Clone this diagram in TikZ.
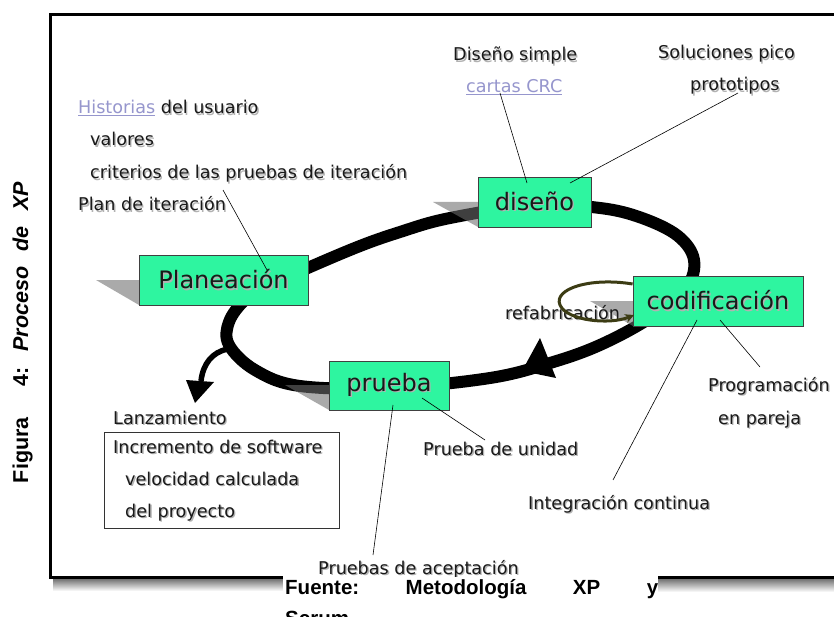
\documentclass[tikz,border=0pt]{standalone}
\usepackage{fontspec}
\setmainfont{DejaVu Sans}
\newfontfamily\capfont{Liberation Sans}
\usetikzlibrary{arrows.meta}
\definecolor{phasegreen}{RGB}{46,245,160}
\definecolor{linkblue}{RGB}{150,150,205}
\definecolor{olive}{RGB}{60,60,20}
\definecolor{txt}{RGB}{25,25,25}
\newcommand\shd[1]{\leavevmode\rlap{\kern1.3pt\raisebox{-1.3pt}{\textcolor{black!30}{#1}}}#1}
\tikzset{
  lbl/.style={anchor=base west, inner sep=0pt, font=\fontsize{17.6}{20}\selectfont, text=txt},
  phase/.style={draw=black!75, line width=0.8pt, fill=phasegreen, inner sep=0pt, font=\fontsize{24}{28}\selectfont, text=txt},
  boxshadow/.style={fill=black!57, opacity=0.58},
  leader/.style={draw=black, line width=0.6pt},
  loopline/.style={draw=black, line width=12pt},
  framerule/.style={draw=black, line width=3pt},
  srcfnt/.style={inner sep=0pt, font=\capfont\bfseries\frenchspacing\fontsize{20.5}{24}\selectfont, text=black},
  capfnt/.style={inner sep=0pt, font=\capfont\bfseries\frenchspacing\fontsize{21.5}{24}\selectfont, text=black}
}
\begin{document}
\begin{tikzpicture}[x=1pt,y=-1pt]
\useasboundingbox (0,0) rectangle (834,617);
\fill[white] (0,0) rectangle (834,617);

% frame
\draw[framerule] (845,14.5) -- (50,14.5) -- (50,577.5) -- (283,577.5);
\draw[framerule] (658,577.5) -- (845,577.5);
\shade[top color=black!55, bottom color=white] (53,579) rectangle (283,591);
\shade[top color=black!55, bottom color=white] (658,579) rectangle (834,592);

% big loop
\draw[loopline] plot[smooth cycle, tension=0.6] coordinates {
  (270,285) (350,250) (400,232) (450,218) (535,205) (600,208) (642,218)
  (678,236) (694,260) (686,288) (650,318) (600,345) (550,363) (490,378)
  (390,388) (300,386) (255,370) (229,345) (229,322) (245,300)};
% arrowhead on loop
\fill[black] (540,338) -- (556,378) -- (522,371) -- cycle;
% release branch
\draw[black, line width=5.5pt] (228,349) .. controls (212,352) and (203,364) .. (201,381);
\fill[black] (186,380) -- (214,382) -- (195,403) -- cycle;

% box shadows
\fill[boxshadow] (96,280) -- (139,280) -- (139,305) -- cycle;
\fill[boxshadow] (433,202) -- (478,202) -- (478,227) -- cycle;
\fill[boxshadow] (590,301) -- (633,301) -- (633,326) -- cycle;
\fill[boxshadow] (285,385) -- (329,385) -- (329,410) -- cycle;

% phase boxes
\node[phase, minimum width=169pt, minimum height=50pt] (plan) at (223.5,280) {\shd{Planeación}};
\node[phase, minimum width=113pt, minimum height=50pt] (dis) at (534.5,202) {\shd{diseño}};
\node[phase, minimum width=170pt, minimum height=50pt] (cod) at (718,301) {\shd{codificación}};
\node[phase, minimum width=120pt, minimum height=49pt] (pru) at (389,385.5) {\shd{prueba}};

% labels
\node[lbl] (hist) at (78,114) {\textcolor{linkblue}{\underline{Historias}} \shd{del usuario}};
\node[lbl] (val) at (90,146) {\shd{valores}};
\node[lbl] (crit) at (90,179) {\shd{criterios de las pruebas de iteración}};
\node[lbl] (lplan) at (78,211) {\shd{Plan de iteración}};
\node[lbl] (dsimple) at (453,61) {\shd{Diseño simple}};
\node[lbl] (crc) at (466,93) {\textcolor{linkblue}{\underline{cartas CRC}}};
\node[lbl] (sol) at (658,59) {\shd{Soluciones pico}};
\node[lbl] (proto) at (690,91) {\shd{prototipos}};
\node[lbl] (prog) at (708,391) {\shd{Programación}};
\node[lbl] (par) at (718,424) {\shd{en pareja}};
\node[lbl] (unid) at (423,455) {\shd{Prueba de unidad}};
\node[lbl] (integ) at (528,509) {\shd{Integración continua}};
\node[lbl] (acep) at (318,574) {\shd{Pruebas de aceptación}};
\node[lbl] (lanz) at (113,424) {\shd{Lanzamiento}};
\node[draw=black!80, line width=0.8pt, minimum width=235pt, minimum height=96pt, inner sep=0pt] (rel) at (221.5,480) {};
\node[lbl] (inc) at (113,453) {\shd{Incremento de software}};
\node[lbl] (vel) at (125,485) {\shd{velocidad calculada}};
\node[lbl] (proy) at (125,517) {\shd{del proyecto}};
\node[lbl] (refab) at (505,319) {\shd{refabricación}};

% refactoring loop
\draw[draw=olive, line width=3pt, -{Stealth[length=9pt,width=9pt]}]
  (cod.west |- 0,284) .. controls (590,277) and (553,289) .. (560,305)
  .. controls (567,321) and (610,325) .. (634,315);

% leader lines
\coordinate (e1) at (223,190); \coordinate (b1) at (267,270);
\coordinate (e2) at (500,93);  \coordinate (b2) at (527,183);
\coordinate (e3) at (738,93);  \coordinate (b3) at (570,183);
\coordinate (e4) at (760,367); \coordinate (b4) at (720,320);
\coordinate (e5) at (613,480); \coordinate (b5) at (697,320);
\coordinate (e6) at (485,440); \coordinate (b6) at (422,398);
\coordinate (e7) at (373,555); \coordinate (b7) at (393,405);
\draw[leader] (e1) -- (b1);
\draw[leader] (e2) -- (b2);
\draw[leader] (e3) -- (b3);
\draw[leader] (e4) -- (b4);
\draw[leader] (e5) -- (b5);
\draw[leader] (e6) -- (b6);
\draw[leader] (e7) -- (b7);

% source line
\fill[white] (283,577) rectangle (657,617);
\node[srcfnt, anchor=base west] (src) at (285,594) {\makebox[373pt][s]{Fuente: Metodología XP y}};
\node[srcfnt, anchor=base west] (src2) at (285,625) {Scrum};

% caption
\node[capfnt, rotate=90, anchor=base] (cap) at (28,332.5) {\makebox[301pt][s]{Figura\ \ 4: \textit{Proceso de XP}}};
\end{tikzpicture}
\end{document}
